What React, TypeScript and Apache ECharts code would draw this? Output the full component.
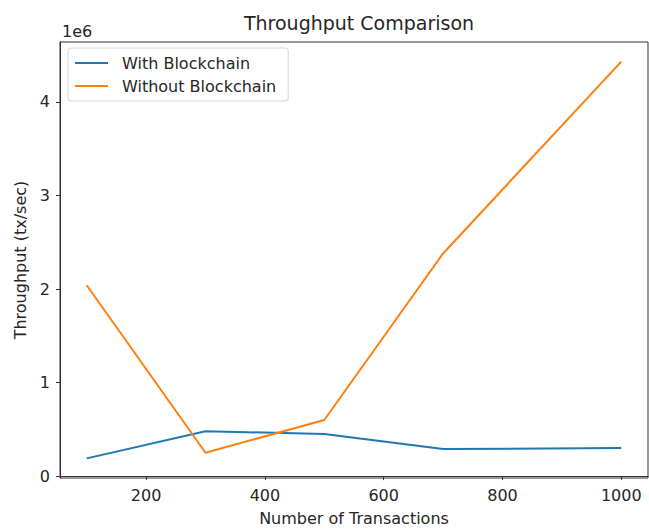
import React, { useEffect, useRef } from "react";
import * as echarts from "echarts";

const transactions = [100, 300, 500, 700, 1000];
const withBlockchain = [0.19e6, 0.48e6, 0.45e6, 0.29e6, 0.3e6];
const withoutBlockchain = [2.04e6, 0.25e6, 0.6e6, 2.38e6, 4.43e6];
const xTicks = [200, 400, 600, 800, 1000];
const yTicks = [0, 1e6, 2e6, 3e6, 4e6];

const FONT = "DejaVu Sans";
const TXT = "#262626";

export default function App() {
  const ref = useRef<HTMLDivElement>(null);
  useEffect(() => {
    const chart = echarts.init(ref.current!, null, { renderer: "svg" });
    chart.setOption({
      animation: false,
      backgroundColor: "#fff",
      title: {
        text: "Throughput Comparison",
        left: 354,
        textAlign: "center",
        top: 8,
        textStyle: { fontFamily: FONT, fontSize: 19, fontWeight: "normal", color: TXT },
      },
      legend: {
        orient: "vertical",
        left: 68,
        top: 48,
        padding: [7, 12, 7, 7],
        borderColor: "#d6d6d6",
        borderWidth: 1,
        borderRadius: 3,
        backgroundColor: "rgba(255,255,255,0.8)",
        itemWidth: 33,
        itemHeight: 2,
        itemGap: 7,
        icon: "rect",
        textStyle: { fontFamily: FONT, fontSize: 16, color: TXT, padding: [0, 0, 0, 9] },
        data: ["With Blockchain", "Without Blockchain"],
      },
      grid: {
        left: 60,
        right: 1,
        top: 42,
        bottom: 52,
        show: true,
        borderColor: "#333",
        borderWidth: 1,
        containLabel: false,
      },
      xAxis: {
        type: "value",
        min: 55,
        max: 1045,
        name: "Number of Transactions",
        nameLocation: "middle",
        nameGap: 32,
        nameTextStyle: { fontFamily: FONT, fontSize: 16, color: TXT },
        axisLine: { show: true, lineStyle: { color: "#333" } },
        axisTick: { show: true, inside: false, length: 4, customValues: xTicks, lineStyle: { color: "#333" } },
        axisLabel: {
          customValues: xTicks,
          fontFamily: FONT,
          fontSize: 16,
          color: TXT,
          margin: 9,
          formatter: (v: number) => String(v),
        },
        splitLine: { show: false },
      },
      yAxis: {
        type: "value",
        min: -0.02e6,
        max: 4.64e6,
        name: "Throughput (tx/sec)",
        nameLocation: "middle",
        nameGap: 32,
        nameRotate: 90,
        nameTextStyle: { fontFamily: FONT, fontSize: 16, color: TXT },
        axisLine: { show: true, lineStyle: { color: "#333" } },
        axisTick: { show: true, inside: false, length: 4, customValues: yTicks, lineStyle: { color: "#333" } },
        axisLabel: {
          customValues: yTicks,
          fontFamily: FONT,
          fontSize: 16,
          color: TXT,
          margin: 10,
          formatter: (v: number) => String(Math.round(v / 1e6)),
        },
        splitLine: { show: false },
      },
      graphic: [
        {
          type: "text",
          left: 62,
          top: 23,
          style: { text: "1e6", fontFamily: FONT, fontSize: 16, fill: TXT },
        },
      ],
      series: [
        {
          name: "With Blockchain",
          type: "line",
          data: transactions.map((x, i) => [x, withBlockchain[i]]),
          showSymbol: false,
          symbol: "none",
          color: "#1f77b4",
          lineStyle: { width: 2, color: "#1f77b4" },
        },
        {
          name: "Without Blockchain",
          type: "line",
          data: transactions.map((x, i) => [x, withoutBlockchain[i]]),
          showSymbol: false,
          symbol: "none",
          color: "#ff7f0e",
          lineStyle: { width: 2, color: "#ff7f0e" },
        },
      ],
    });
    return () => chart.dispose();
  }, []);
  return (
    <div
      ref={ref}
      style={{ position: "fixed", left: 0, top: 0, width: 649, height: 531 }}
    />
  );
}
